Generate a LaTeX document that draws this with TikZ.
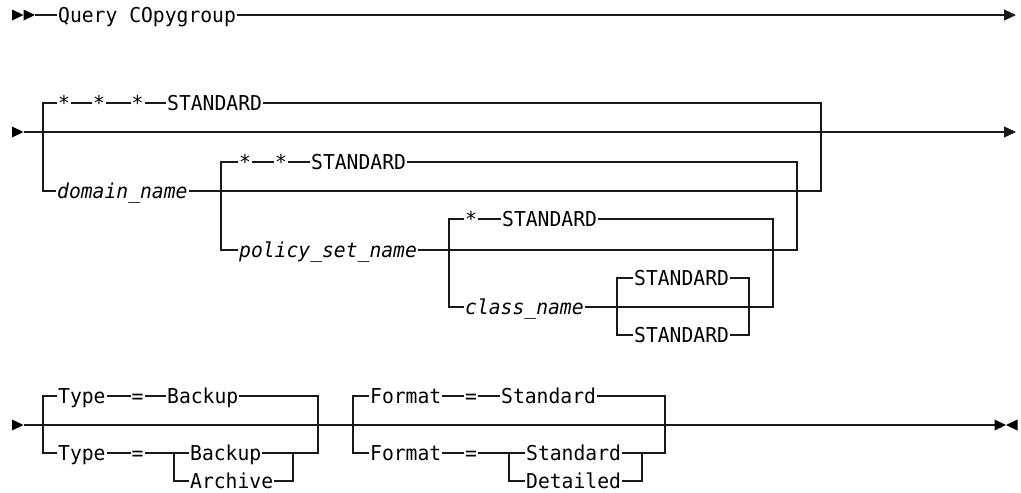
\documentclass[tikz,border=0pt]{standalone}
\usepackage{fontspec}
\setmonofont{DejaVu Sans Mono}[FakeStretch=0.96]
\usepackage{tikz}
\usetikzlibrary{arrows.meta}

\newcommand{\rrfont}{\ttfamily\fontsize{20.5}{24}\selectfont}

\begin{document}
\begin{tikzpicture}[
    x=1pt, y=-1pt,
    term/.style={font=\rrfont, anchor=west, inner xsep=1pt, inner ysep=0pt, text height=14.9pt, text depth=0pt},
    varterm/.style={term, font=\rrfont\itshape},
    rail/.style={line width=1.2pt, draw=black!90},
    railend/.style={rail, -{Triangle[length=12pt,width=11pt]}},
    rtri/.pic={\fill[black] (0,-5.5) -- (11.5,0) -- (0,5.5) -- cycle;},
    ltri/.pic={\fill[black] (0,-5.5) -- (-11.5,0) -- (0,5.5) -- cycle;}
]
\useasboundingbox (0,0) rectangle (1021,493);

% First line: command name
\pic at (12,15) {rtri};
\pic at (23.5,15) {rtri};
\coordinate (r1s) at (35,15);
\coordinate (r1e) at (1016,15);
\node[term] (qc) at (57,15) {Query COpygroup};
\draw[rail] (r1s) -- (qc);
\draw[railend] (qc) -- (r1e);

% Second line: nested names
\pic at (12,132) {rtri};
\coordinate (r2s) at (23.5,132);
\coordinate (r2e) at (1016,132);
\draw[railend] (r2s) -- (r2e);

\coordinate (aL) at (43,132);
\coordinate (aR) at (821,132);
\coordinate (bL) at (221,191);
\coordinate (bR) at (797,191);
\coordinate (cL) at (449,250);
\coordinate (cR) at (773,250);
\coordinate (dL) at (617,307);
\coordinate (dR) at (749,307);

\node[term] (s1) at (57,103) {*};
\node[term] (s2) at (92,103) {*};
\node[term] (s3) at (130.5,103) {*};
\node[term] (std1) at (166,103) {STANDARD};
\node[varterm] (dom) at (56,191) {domain\_name};

\node[term] (b1) at (238,162) {*};
\node[term] (b2) at (274,162) {*};
\node[term] (std2) at (310,162) {STANDARD};
\node[varterm] (pol) at (238,250) {policy\_set\_name};

\node[term] (c1) at (464,219) {*};
\node[term] (std3) at (501,219) {STANDARD};
\node[varterm] (cls) at (464,307) {class\_name};

\node[term] (d1) at (633,278) {STANDARD};
\node[term] (d2) at (633,335) {STANDARD};

\draw[rail] (s1) -| (aL) |- (dom);
\draw[rail] (s1) -- (s2) -- (s3) -- (std1) -| (aR) |- (dom);
\draw[rail] (b1) -| (bL) |- (pol);
\draw[rail] (b1) -- (b2) -- (std2) -| (bR) |- (pol);
\draw[rail] (c1) -| (cL) |- (cls);
\draw[rail] (c1) -- (std3) -| (cR) |- (cls);
\draw[rail] (d1) -| (dL) |- (d2);
\draw[rail] (d1) -| (dR) |- (d2);

% Third line: Type and Format options
\pic at (12,425) {rtri};
\coordinate (r3s) at (23.5,425);
\coordinate (r3e) at (994.5,425);
\draw[rail] (r3s) -- (r3e);
\pic at (994.5,425) {rtri};
\pic at (1017.5,425) {ltri};

\coordinate (eL) at (43,425);
\coordinate (eR) at (318,425);
\coordinate (fL) at (174,453);
\coordinate (fR) at (293,453);
\coordinate (gL) at (353,425);
\coordinate (gR) at (665,425);
\coordinate (hL) at (509,453);
\coordinate (hR) at (642,453);

\node[term] (t1) at (57,396) {Type};
\node[term] (t2) at (130.5,396) {=};
\node[term] (t3) at (166,396) {Backup};
\node[term] (t4) at (57,453) {Type};
\node[term] (t5) at (130.5,453) {=};
\node[term] (t6) at (189,453) {Backup};
\node[term] (t7) at (189,481) {Archive};

\node[term] (f1) at (369,396) {Format};
\node[term] (f2) at (464,396) {=};
\node[term] (f3) at (500,396) {Standard};
\node[term] (f4) at (369,453) {Format};
\node[term] (f5) at (464,453) {=};
\node[term] (f6) at (525,453) {Standard};
\node[term] (f7) at (525,481) {Detailed};

\draw[rail] (t1) -| (eL) |- (t4);
\draw[rail] (t1) -- (t2) -- (t3) -| (eR);
\draw[rail] (t4) -- (t5) -- (t6);
\draw[rail] (fL) |- (t7);
\draw[rail] (t6) -| (fR) |- (t7);
\draw[rail] (fR) -| (eR);

\draw[rail] (f1) -| (gL) |- (f4);
\draw[rail] (f1) -- (f2) -- (f3) -| (gR);
\draw[rail] (f4) -- (f5) -- (f6);
\draw[rail] (hL) |- (f7);
\draw[rail] (f6) -| (hR) |- (f7);
\draw[rail] (hR) -| (gR);

\end{tikzpicture}
\end{document}
